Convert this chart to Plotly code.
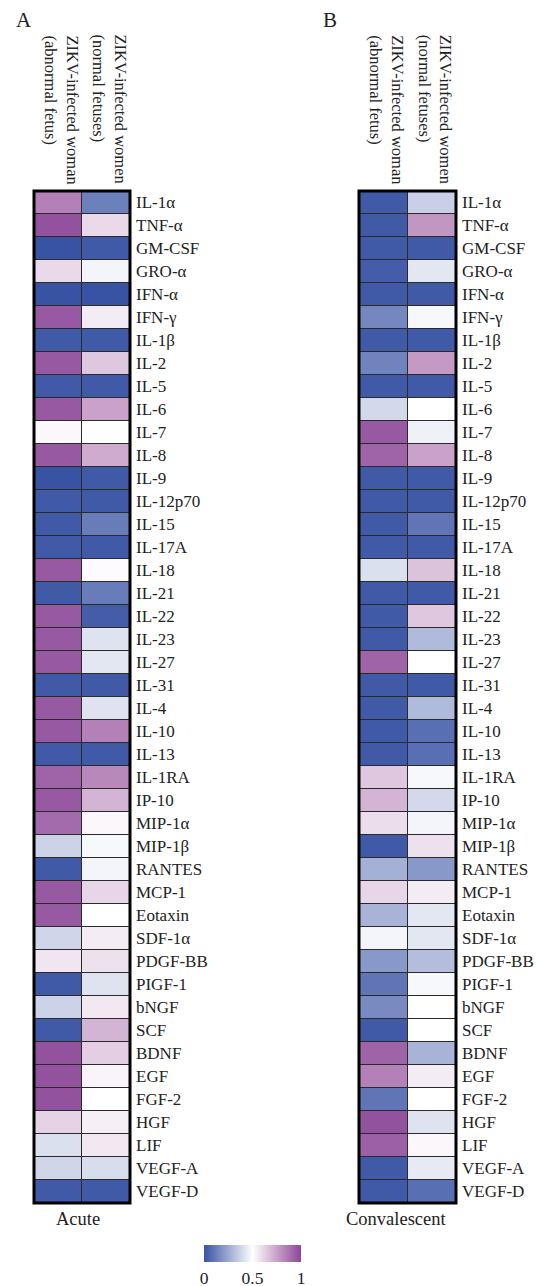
import plotly.graph_objects as go

cytokines = ["IL-1α", "TNF-α", "GM-CSF", "GRO-α", "IFN-α", "IFN-γ", "IL-1β", "IL-2", "IL-5", "IL-6",
             "IL-7", "IL-8", "IL-9", "IL-12p70", "IL-15", "IL-17A", "IL-18", "IL-21", "IL-22", "IL-23",
             "IL-27", "IL-31", "IL-4", "IL-10", "IL-13", "IL-1RA", "IP-10", "MIP-1α", "MIP-1β", "RANTES",
             "MCP-1", "Eotaxin", "SDF-1α", "PDGF-BB", "PIGF-1", "bNGF", "SCF", "BDNF", "EGF", "FGF-2",
             "HGF", "LIF", "VEGF-A", "VEGF-D"]

groups = ["ZIKV-infected woman<br>(abnormal fetus)", "ZIKV-infected women<br>(normal fetuses)"]

acute_abnormal = [0.84, 0.97, 0.0, 0.60, 0.0, 0.95, 0.02, 0.95, 0.02, 0.95,
                  0.52, 0.95, 0.0, 0.02, 0.02, 0.02, 0.95, 0.02, 0.95, 0.95,
                  0.95, 0.02, 0.95, 0.95, 0.02, 0.92, 0.95, 0.90, 0.37, 0.02,
                  0.95, 0.95, 0.38, 0.57, 0.02, 0.37, 0.02, 0.97, 0.97, 0.97,
                  0.62, 0.41, 0.38, 0.02]
acute_normal = [0.13, 0.60, 0.02, 0.47, 0.0, 0.55, 0.02, 0.65, 0.02, 0.75,
                0.50, 0.72, 0.02, 0.02, 0.12, 0.02, 0.51, 0.12, 0.03, 0.42,
                0.43, 0.02, 0.42, 0.84, 0.02, 0.82, 0.70, 0.52, 0.48, 0.47,
                0.61, 0.50, 0.55, 0.58, 0.42, 0.56, 0.70, 0.63, 0.53, 0.50,
                0.54, 0.56, 0.40, 0.02]
conv_abnormal = [0.02, 0.02, 0.02, 0.03, 0.02, 0.15, 0.02, 0.14, 0.02, 0.39,
                 0.95, 0.92, 0.02, 0.02, 0.02, 0.02, 0.41, 0.02, 0.02, 0.02,
                 0.92, 0.02, 0.02, 0.02, 0.02, 0.65, 0.70, 0.59, 0.02, 0.27,
                 0.61, 0.28, 0.47, 0.20, 0.10, 0.16, 0.02, 0.92, 0.84, 0.10,
                 0.97, 0.93, 0.02, 0.02]
conv_normal = [0.36, 0.78, 0.02, 0.43, 0.02, 0.48, 0.02, 0.77, 0.02, 0.50,
               0.46, 0.75, 0.02, 0.02, 0.10, 0.02, 0.66, 0.02, 0.65, 0.30,
               0.50, 0.02, 0.30, 0.08, 0.08, 0.48, 0.39, 0.47, 0.58, 0.20,
               0.55, 0.43, 0.43, 0.31, 0.48, 0.50, 0.50, 0.28, 0.55, 0.50,
               0.42, 0.52, 0.44, 0.08]

panel_titles = ["Acute", "Convalescent"]
panel_letters = ["A", "B"]
cb_ticks = [0, 0.5, 1]
cb_ticktext = ["0", "0.5", "1"]

W, H = 538, 1286
FONT = "Liberation Serif"
colorscale = [[0.0, "#3953a4"], [0.5, "#ffffff"], [0.75, "#c9a1c9"], [1.0, "#8b4798"]]

fig = go.Figure()

panels = [
    dict(x0=34, x1=130, vals=(acute_abnormal, acute_normal), tshift=-4),
    dict(x0=359, x1=456, vals=(conv_abnormal, conv_normal), tshift=-11),
]
y_top, y_bot = 191, 1203

for i, p in enumerate(panels):
    z = [[a, b] for a, b in zip(*p["vals"])]
    xa = "x" if i == 0 else "x2"
    ya = "y" if i == 0 else "y2"
    fig.add_trace(go.Heatmap(
        z=z, x=[0, 1], y=cytokines, xaxis=xa, yaxis=ya,
        zmin=0, zmax=1, colorscale=colorscale, xgap=1, ygap=1,
        showscale=(i == 0), hoverinfo="skip",
        colorbar=dict(orientation="h", x=252.5 / W, xanchor="center",
                      y=1 - 1245 / H, yanchor="top", len=97, lenmode="pixels",
                      thickness=17, xpad=0, ypad=0, outlinewidth=0,
                      tickvals=cb_ticks, ticktext=cb_ticktext, ticks="",
                      tickfont=dict(family=FONT, size=17.5, color="#222")),
    ))
    xkey = "xaxis" if i == 0 else "xaxis2"
    ykey = "yaxis" if i == 0 else "yaxis2"
    fig.update_layout(**{
        xkey: dict(domain=[p["x0"] / W, p["x1"] / W], range=[-0.5, 1.5],
                   showticklabels=False, showgrid=False, zeroline=False,
                   anchor=ya),
        ykey: dict(domain=[1 - y_bot / H, 1 - y_top / H], autorange="reversed",
                   side="right", showgrid=False, zeroline=False, ticks="",
                   ticklabelstandoff=5, anchor=xa, automargin=False,
                   tickfont=dict(family=FONT, size=17, color="#222")),
    })
    xr = "x domain" if i == 0 else "x2 domain"
    yr = "y domain" if i == 0 else "y2 domain"
    fig.add_shape(type="rect", xref=xr, yref=yr, x0=0, x1=1, y0=0, y1=1,
                  line=dict(color="black", width=3))
    colw = (p["x1"] - p["x0"]) / 2
    for j, g in enumerate(groups):
        cx = p["x0"] + colw * (j + 0.5) + 3
        fig.add_annotation(text=g, textangle=90, align="left",
                           x=cx / W, y=1 - 33 / H, xref="paper", yref="paper",
                           xanchor="center", yanchor="top", showarrow=False,
                           font=dict(family=FONT, size=16.5, color="#222"))
    fig.add_annotation(text=panel_titles[i], x=((p["x0"] + p["x1"]) / 2 + p["tshift"]) / W,
                       y=1 - 1219 / H, xref="paper", yref="paper",
                       xanchor="center", yanchor="middle", showarrow=False,
                       font=dict(family=FONT, size=18.5, color="#222"))
    lx = 14 if i == 0 else 321
    fig.add_annotation(text=panel_letters[i], x=lx / W, y=1 - 20 / H,
                       xref="paper", yref="paper", xanchor="left", yanchor="middle",
                       showarrow=False, font=dict(family=FONT, size=21, color="#222"))

fig.update_layout(width=W, height=H, margin=dict(l=0, r=0, t=0, b=0, autoexpand=False),
                  paper_bgcolor="white", plot_bgcolor="#2a2a2a",
                  font=dict(family=FONT, color="#222"))

fig.write_html("out.html", config={"displayModeBar": False},
               post_script="document.body.style.margin='0';")
